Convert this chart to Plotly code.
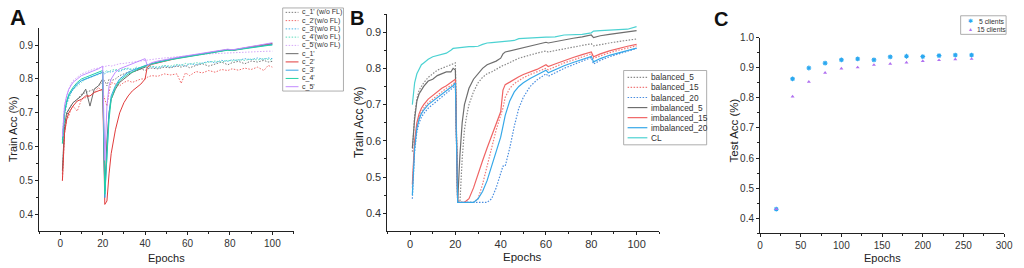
import plotly.graph_objects as go

# ---------------- Panel A data ----------------
epochs_A = [1,2,3,4,5,6,8,10,12,14,16,18,20,21,22,23,24,26,28,30,32,34,36,38,40,
            41,43,46,49,52,55,57,59,61,64,67,70,73,76,79,81,84,87,90,93,96,98,100]

c1_fl = [0.53,0.66,0.70,0.71,0.72,0.73,0.74,0.75,0.77,0.72,0.77,0.78,0.80,0.47,0.62,0.70,0.74,0.77,0.79,0.80,0.81,0.82,0.825,0.83,0.835,
         0.84,0.845,0.85,0.855,0.858,0.862,0.864,0.866,0.868,0.872,0.875,0.878,0.881,0.884,0.887,0.885,0.889,0.892,0.895,0.898,0.901,0.903,0.905]
c2_fl = [0.50,0.64,0.68,0.70,0.71,0.72,0.735,0.74,0.75,0.75,0.76,0.765,0.77,0.43,0.44,0.52,0.58,0.65,0.70,0.73,0.75,0.765,0.775,0.785,0.80,
         0.835,0.843,0.848,0.853,0.857,0.861,0.863,0.865,0.867,0.871,0.874,0.877,0.88,0.883,0.886,0.884,0.888,0.891,0.894,0.897,0.90,0.902,0.903]
c3_fl = [0.62,0.70,0.73,0.75,0.76,0.77,0.785,0.795,0.80,0.805,0.81,0.815,0.82,0.45,0.60,0.70,0.75,0.78,0.80,0.81,0.82,0.825,0.83,0.835,0.84,
         0.842,0.845,0.85,0.855,0.858,0.862,0.864,0.866,0.867,0.871,0.874,0.877,0.88,0.883,0.886,0.885,0.888,0.891,0.894,0.897,0.899,0.90,0.902]
c4_fl = [0.61,0.70,0.735,0.755,0.765,0.775,0.79,0.80,0.805,0.81,0.815,0.82,0.825,0.46,0.58,0.68,0.74,0.775,0.795,0.805,0.815,0.82,0.828,0.834,0.838,
         0.841,0.844,0.849,0.853,0.857,0.86,0.862,0.864,0.866,0.87,0.873,0.876,0.879,0.882,0.885,0.884,0.887,0.89,0.893,0.895,0.897,0.899,0.90]
c5_fl = [0.63,0.72,0.75,0.77,0.78,0.79,0.80,0.81,0.815,0.82,0.825,0.83,0.838,0.56,0.72,0.78,0.80,0.82,0.83,0.835,0.84,0.845,0.85,0.855,0.86,
         0.84,0.848,0.853,0.857,0.86,0.864,0.866,0.868,0.87,0.873,0.876,0.879,0.882,0.885,0.888,0.886,0.89,0.893,0.896,0.899,0.902,0.904,0.907]

c1_wo = [0.52,0.65,0.69,0.71,0.72,0.73,0.74,0.755,0.76,0.765,0.77,0.78,0.79,0.795,0.78,0.80,0.795,0.80,0.81,0.815,0.82,0.82,0.825,0.83,0.825,
         0.83,0.832,0.83,0.835,0.833,0.838,0.835,0.84,0.833,0.84,0.845,0.838,0.845,0.85,0.842,0.848,0.852,0.845,0.853,0.85,0.855,0.85,0.852]
c2_wo = [0.50,0.64,0.68,0.69,0.71,0.72,0.705,0.74,0.745,0.75,0.76,0.775,0.76,0.74,0.72,0.76,0.79,0.785,0.78,0.79,0.795,0.79,0.795,0.80,0.80,
         0.805,0.81,0.808,0.815,0.812,0.815,0.787,0.818,0.81,0.822,0.818,0.825,0.82,0.828,0.825,0.83,0.826,0.832,0.828,0.835,0.825,0.84,0.835]
c3_wo = [0.61,0.70,0.73,0.75,0.76,0.77,0.785,0.795,0.80,0.805,0.81,0.815,0.82,0.815,0.82,0.822,0.82,0.825,0.822,0.828,0.83,0.826,0.832,0.83,0.835,
         0.833,0.836,0.832,0.838,0.835,0.84,0.842,0.838,0.845,0.842,0.848,0.852,0.848,0.855,0.852,0.857,0.855,0.86,0.857,0.862,0.858,0.862,0.86]
c4_wo = [0.61,0.69,0.725,0.745,0.758,0.768,0.78,0.79,0.80,0.805,0.81,0.815,0.818,0.82,0.825,0.82,0.826,0.828,0.826,0.83,0.832,0.828,0.835,0.832,0.836,
         0.834,0.838,0.835,0.84,0.838,0.843,0.84,0.846,0.843,0.848,0.846,0.85,0.853,0.85,0.855,0.853,0.857,0.855,0.859,0.856,0.86,0.858,0.856]
c5_wo = [0.64,0.72,0.75,0.77,0.785,0.795,0.805,0.815,0.82,0.825,0.83,0.832,0.835,0.836,0.838,0.84,0.838,0.842,0.845,0.846,0.848,0.85,0.852,0.853,0.855,
         0.856,0.858,0.86,0.862,0.864,0.866,0.867,0.868,0.869,0.871,0.872,0.874,0.875,0.876,0.877,0.878,0.879,0.879,0.88,0.881,0.881,0.882,0.882]

names_A = ["c_1' (w/o FL)", "c_2'(w/o FL)", "c_3'(w/o FL)", "c_4'(w/o FL)", "c_5'(w/o FL)",
           "c_1'", "c_2'", "c_3'", "c_4'", "c_5'"]
series_A = [c1_wo, c2_wo, c3_wo, c4_wo, c5_wo, c1_fl, c2_fl, c3_fl, c4_fl, c5_fl]
colors_A = ["#7a7a7a", "#f06a6a", "#4ab4e6", "#5cdcbc", "#d4a8f8",
            "#6a6a6a", "#e03c3c", "#34a4e4", "#22d2a6", "#c28cff"]
dotted = "1.5px,1.5px"
dash_A = [dotted] * 5 + ["solid"] * 5

# ---------------- Panel B data ----------------
epochs_B = [1,2,3,4,5,6,8,10,12,14,16,18,19,20,21,22,23,24,25,26,28,30,32,34,36,38,40,
            41,42,44,46,48,50,53,56,60,61,64,68,72,76,80,81,84,88,92,96,100]

cl = [0.70,0.76,0.785,0.80,0.81,0.815,0.825,0.832,0.836,0.84,0.842,0.85,0.855,0.856,0.857,0.858,0.858,0.859,0.86,0.86,0.86,0.861,0.866,0.87,0.871,0.872,0.874,
      0.875,0.875,0.876,0.877,0.882,0.883,0.884,0.885,0.886,0.886,0.887,0.892,0.893,0.894,0.898,0.903,0.904,0.905,0.906,0.908,0.915]
imb_5 = [0.58,0.66,0.71,0.73,0.74,0.75,0.765,0.77,0.78,0.785,0.79,0.79,0.80,0.795,0.43,0.56,0.65,0.70,0.725,0.745,0.77,0.785,0.80,0.81,0.815,0.82,0.828,
         0.84,0.845,0.848,0.852,0.855,0.858,0.862,0.866,0.872,0.87,0.874,0.879,0.883,0.887,0.892,0.885,0.89,0.894,0.898,0.901,0.904]
bal_5 = [0.57,0.67,0.715,0.74,0.75,0.76,0.775,0.785,0.795,0.80,0.805,0.81,0.812,0.815,0.43,0.43,0.55,0.63,0.67,0.70,0.735,0.76,0.775,0.785,0.79,0.798,0.805,
         0.808,0.81,0.815,0.822,0.828,0.832,0.837,0.842,0.848,0.845,0.849,0.854,0.858,0.862,0.868,0.862,0.866,0.87,0.874,0.878,0.881]
imb_15 = [0.48,0.60,0.65,0.675,0.69,0.70,0.715,0.725,0.735,0.745,0.752,0.76,0.765,0.77,0.43,0.43,0.43,0.43,0.435,0.44,0.47,0.51,0.545,0.58,0.615,0.65,0.68,
          0.74,0.755,0.762,0.77,0.777,0.783,0.79,0.797,0.81,0.805,0.812,0.822,0.83,0.838,0.845,0.832,0.84,0.848,0.855,0.861,0.866]
bal_15 = [0.47,0.59,0.64,0.665,0.68,0.69,0.705,0.715,0.725,0.735,0.745,0.752,0.758,0.762,0.43,0.43,0.43,0.43,0.43,0.43,0.43,0.44,0.48,0.53,0.58,0.63,0.67,
          0.69,0.72,0.745,0.758,0.767,0.774,0.783,0.79,0.80,0.796,0.805,0.815,0.823,0.832,0.84,0.828,0.835,0.843,0.85,0.856,0.862]
imb_20 = [0.45,0.58,0.635,0.66,0.675,0.685,0.70,0.71,0.72,0.73,0.74,0.748,0.752,0.76,0.43,0.43,0.43,0.43,0.43,0.43,0.43,0.44,0.46,0.49,0.53,0.57,0.61,
          0.64,0.67,0.71,0.735,0.75,0.76,0.772,0.782,0.795,0.788,0.797,0.807,0.816,0.825,0.833,0.818,0.827,0.836,0.843,0.85,0.856]
bal_20 = [0.44,0.57,0.625,0.65,0.665,0.675,0.69,0.70,0.712,0.722,0.73,0.74,0.745,0.752,0.43,0.43,0.43,0.43,0.43,0.43,0.43,0.43,0.43,0.43,0.44,0.47,0.51,
          0.53,0.53,0.58,0.64,0.69,0.72,0.75,0.768,0.785,0.778,0.788,0.80,0.81,0.82,0.83,0.812,0.822,0.832,0.84,0.848,0.855]

names_B = ["balanced_5", "balanced_15", "balanced_20", "imbalanced_5", "imbalanced_15", "imbalanced_20", "CL"]
series_B = [bal_5, bal_15, bal_20, imb_5, imb_15, imb_20, cl]
colors_B = ["#8a8a8a", "#f07a7a", "#4a8ee0", "#6e6e6e", "#f06464", "#36a8e8", "#4cd2d2"]
dash_B = [dotted, dotted, dotted, "solid", "solid", "solid", "solid"]

# ---------------- Panel C data ----------------
epochs_C = [20,40,60,80,100,120,140,160,180,200,220,240,260]
acc_5 = [0.43,0.863,0.899,0.915,0.926,0.929,0.926,0.936,0.938,0.937,0.940,0.942,0.942]
acc_15 = [0.43,0.804,0.853,0.883,0.897,0.901,0.909,0.913,0.917,0.922,0.925,0.928,0.929]
names_C = ["5 clients", "15 clients"]
colors_C = ["#2aa8f0", "#b070f0"]

W, H = 1024, 268
def px(x): return x / W
def py(y): return 1 - y / H

FONT = "Liberation Sans, Arial, sans-serif"
fig = go.Figure()

for name, ys, c, d in zip(names_A, series_A, colors_A, dash_A):
    fig.add_trace(go.Scatter(x=epochs_A, y=ys, name=name, mode="lines",
                             line=dict(color=c, width=1, dash=d), xaxis="x", yaxis="y"))
for name, ys, c, d in zip(names_B, series_B, colors_B, dash_B):
    fig.add_trace(go.Scatter(x=epochs_B, y=ys, name=name, mode="lines",
                             line=dict(color=c, width=1.2, dash=d), xaxis="x2", yaxis="y2"))
fig.add_trace(go.Scatter(x=epochs_C, y=acc_5, name=names_C[0], mode="markers",
                         marker=dict(symbol="asterisk", size=4, color=colors_C[0],
                                     line=dict(color=colors_C[0], width=1.1)), xaxis="x3", yaxis="y3"))
fig.add_trace(go.Scatter(x=epochs_C, y=acc_15, name=names_C[1], mode="markers",
                         marker=dict(symbol="triangle-up", size=3.5, color=colors_C[1]), xaxis="x3", yaxis="y3"))

def axis(domain, rng, dtick, minor_dtick, tick0, size, anchor):
    return dict(domain=domain, range=rng, dtick=dtick, tick0=tick0, showline=True, linecolor="#222",
                linewidth=1, ticks="outside", ticklen=3, tickcolor="#222", tickwidth=1,
                showgrid=False, zeroline=False, anchor=anchor,
                tickfont=dict(family=FONT, size=size, color="#333"),
                minor=dict(dtick=minor_dtick, tick0=tick0, ticks="outside", ticklen=2, tickcolor="#222"))

fig.update_layout(
    xaxis=axis([px(36.5), px(294)], [-10, 110], 20, 10, 0, 10, "y"),
    yaxis=axis([py(230), py(23)], [0.352, 0.949], 0.1, 0.05, 0.4, 10, "x"),
    xaxis2=axis([px(389), px(664)], [-10, 110], 20, 10, 0, 11, "y2"),
    yaxis2=axis([py(230), py(8)], [0.3514, 0.9505], 0.1, 0.05, 0.4, 11, "x2"),
    xaxis3=axis([px(766), px(1013)], [0, 300], 50, 25, 0, 10, "y3"),
    yaxis3=axis([py(232.5), py(32.3)], [0.35, 1.0], 0.1, 0.05, 0.4, 10, "x3"),
)
fig.update_layout(yaxis=dict(tickformat=".1f"), yaxis2=dict(tickformat=".1f"), yaxis3=dict(tickformat=".1f"))

ann = []
def text(x, y, s, size, **kw):
    d = dict(x=px(x), y=py(y), xref="paper", yref="paper", text=s, showarrow=False,
             xanchor="center", yanchor="middle",
             font=dict(family=FONT, size=size, color=kw.pop("color", "#222")))
    d.update(kw)
    ann.append(d)

# panel letters
text(15, 12, "<b>A</b>", 22, color="#111")
text(358, 12, "<b>B</b>", 20, color="#111")
text(727, 13, "<b>C</b>", 20, color="#111")
# axis titles
text(10, 126, "Train Acc (%)", 11, textangle=-90)
text(165, 258, "Epochs", 11)
text(361, 119, "Train Acc (%)", 12, textangle=-90)
text(526, 257, "Epochs", 11.5)
text(740, 127, "Test Acc (%)", 11.5, textangle=-90)
text(890, 258, "Epochs", 11)

shapes = []
# legend A
shapes.append(dict(type="rect", xref="paper", yref="paper", x0=px(283), x1=px(344.5), y0=py(87), y1=py(2),
                   line=dict(color="#999", width=0.8), fillcolor="white"))
for i, (name, c, d) in enumerate(zip(names_A, colors_A, dash_A)):
    yy = 6.5 + i * 8.45
    shapes.append(dict(type="line", xref="paper", yref="paper", x0=px(286), x1=px(299), y0=py(yy), y1=py(yy),
                       line=dict(color=c, width=1, dash=d)))
    text(301, yy, name, 7, xanchor="left", color="#333")
# legend B
shapes.append(dict(type="rect", xref="paper", yref="paper", x0=px(628), x1=px(712), y0=py(142), y1=py(66),
                   line=dict(color="#999", width=0.8), fillcolor="white"))
for i, (name, c, d) in enumerate(zip(names_B, colors_B, dash_B)):
    yy = 73 + i * 10.3
    shapes.append(dict(type="line", xref="paper", yref="paper", x0=px(632), x1=px(652), y0=py(yy), y1=py(yy),
                       line=dict(color=c, width=1.2, dash=d)))
    text(654, yy, name, 8.3, xanchor="left", color="#333")
# legend C
shapes.append(dict(type="rect", xref="paper", yref="paper", x0=px(969), x1=px(1015), y0=py(29), y1=py(10),
                   line=dict(color="#999", width=0.8), fillcolor="white"))
text(986, 15.5, "5 clients", 6.8, xanchor="left", color="#333")
text(984, 24, "15 clients", 6.8, xanchor="left", color="#333")
text(979, 15.5, "✱", 6, color=colors_C[0])
text(979, 24, "▲", 5, color=colors_C[1])

fig.update_layout(annotations=ann, shapes=shapes, showlegend=False,
                  width=W, height=H, margin=dict(l=0, r=0, t=0, b=0),
                  plot_bgcolor="white", paper_bgcolor="white",
                  font=dict(family=FONT, color="#222"))

# remove the default 8px page margin synchronously (closes plotly's .then wrapper early)
fix_margin = ("}); document.body.style.margin='0'; document.body.style.padding='0'; "
              "document.documentElement.style.overflow='hidden'; (function(){")
fig.write_html("out.html", config={"displayModeBar": False}, post_script=fix_margin)
